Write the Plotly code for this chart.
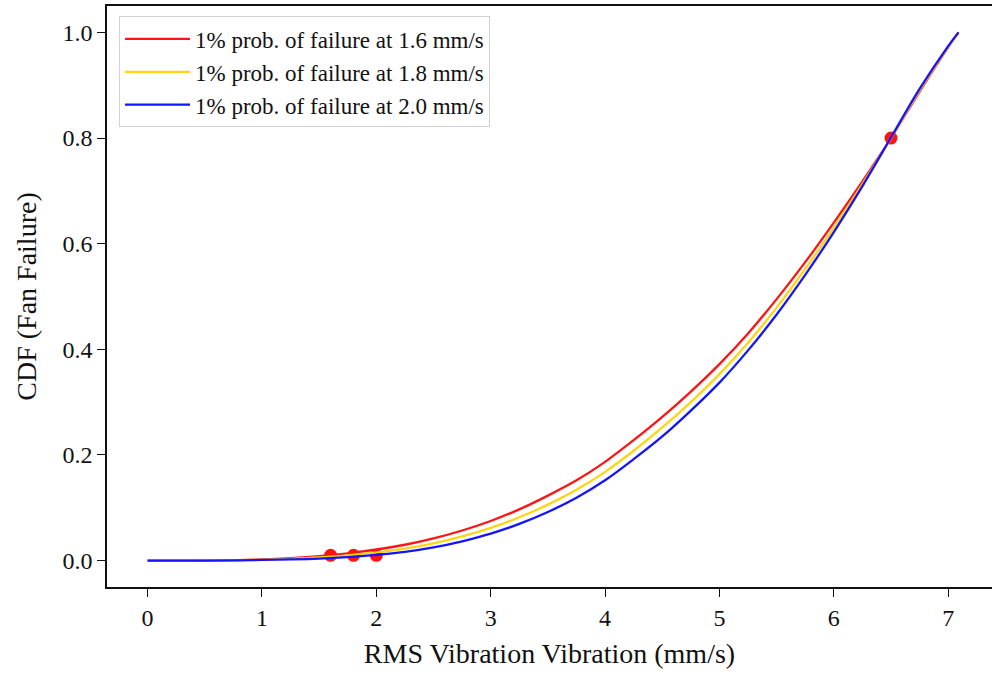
import plotly.graph_objects as go

# RMS vibration grid (mm/s) where the fitted CDF curves were sampled
vib = [0.0, 0.25, 0.5, 0.75, 1.0, 1.25, 1.5, 1.75, 2.0, 2.25, 2.5, 2.75, 3.0, 3.25, 3.5,
       3.75, 4.0, 4.25, 4.5, 4.75, 5.0, 5.25, 5.5, 5.75, 6.0, 6.25, 6.5, 6.75, 7.0, 7.09]

# CDF of fan failure for each assumed 1% failure point
cdf_16 = [0.0, 0.00003, 0.0002, 0.0009, 0.0022, 0.0046, 0.0083, 0.0137, 0.021, 0.030,
          0.042, 0.057, 0.075, 0.097, 0.123, 0.152, 0.187, 0.228, 0.272, 0.320,
          0.372, 0.430, 0.495, 0.565, 0.640, 0.718, 0.800, 0.888, 0.972, 1.0]
cdf_18 = [0.0, 0.00002, 0.00015, 0.0007, 0.0017, 0.0034, 0.0059, 0.0099, 0.0155, 0.0226,
          0.0326, 0.0457, 0.062, 0.082, 0.106, 0.134, 0.168, 0.208, 0.252, 0.300,
          0.353, 0.4125, 0.479, 0.552, 0.630, 0.713, 0.800, 0.890, 0.973, 1.0]
cdf_20 = [0.0, 0.00002, 0.0001, 0.0005, 0.0012, 0.0022, 0.0038, 0.0067, 0.011, 0.0165,
          0.025, 0.0365, 0.051, 0.0695, 0.092, 0.119, 0.152, 0.192, 0.235, 0.284,
          0.337, 0.398, 0.466, 0.541, 0.622, 0.709, 0.801, 0.893, 0.974, 1.0]

# anchor points used for the fits
pts_x = [1.6, 1.8, 2.0, 6.5]
pts_y = [0.01, 0.01, 0.01, 0.8]

series = [
    ("1% prob. of failure at 1.6 mm/s", cdf_16, "#ff1414"),
    ("1% prob. of failure at 1.8 mm/s", cdf_18, "#ffd414"),
    ("1% prob. of failure at 2.0 mm/s", cdf_20, "#1414ff"),
]

FONT = "Liberation Serif, Times New Roman, serif"

fig = go.Figure()
fig.add_trace(go.Scatter(
    x=pts_x, y=pts_y, mode="markers", showlegend=False,
    marker=dict(color="#ff1414", size=13, line=dict(width=0)),
))
for i, (name, ys, col) in enumerate(series):
    fig.add_trace(go.Scatter(
        x=vib, y=ys, mode="lines", name=name, legendgroup=f"g{i}",
        line=dict(color=col, width=2.3, shape="spline", smoothing=1.0),
    ))

axis_common = dict(
    showgrid=False, zeroline=False, showline=True, linecolor="#111111", linewidth=1.6,
    ticks="outside", ticklen=8, tickwidth=1.4, tickcolor="#111111",
    tickfont=dict(family=FONT, size=24, color="#111111"),
)

fig.update_layout(
    width=992, height=674,
    margin=dict(l=107, r=0, t=6, b=87),
    paper_bgcolor="white", plot_bgcolor="white",
    font=dict(family=FONT, color="#111111"),
    xaxis=dict(
        range=[-0.355, 7.383], tickvals=[0, 1, 2, 3, 4, 5, 6, 7], mirror=True,
        title=dict(text="RMS Vibration Vibration (mm/s)", font=dict(family=FONT, size=28), standoff=14),
        **axis_common,
    ),
    yaxis=dict(
        range=[-0.05, 1.05], tickvals=[0, 0.2, 0.4, 0.6, 0.8, 1.0], tickformat=".1f",
        title=dict(text="CDF (Fan Failure)", font=dict(family=FONT, size=28), standoff=18),
        **axis_common,
    ),
    legend=dict(
        x=0.0136, y=0.982, xanchor="left", yanchor="top",
        bgcolor="rgba(255,255,255,0.85)", bordercolor="#d0d0d0", borderwidth=1,
        font=dict(family=FONT, size=23, color="#111111"),
        itemwidth=65, tracegroupgap=3, traceorder="normal",
    ),
)

fig.write_html("out.html")
